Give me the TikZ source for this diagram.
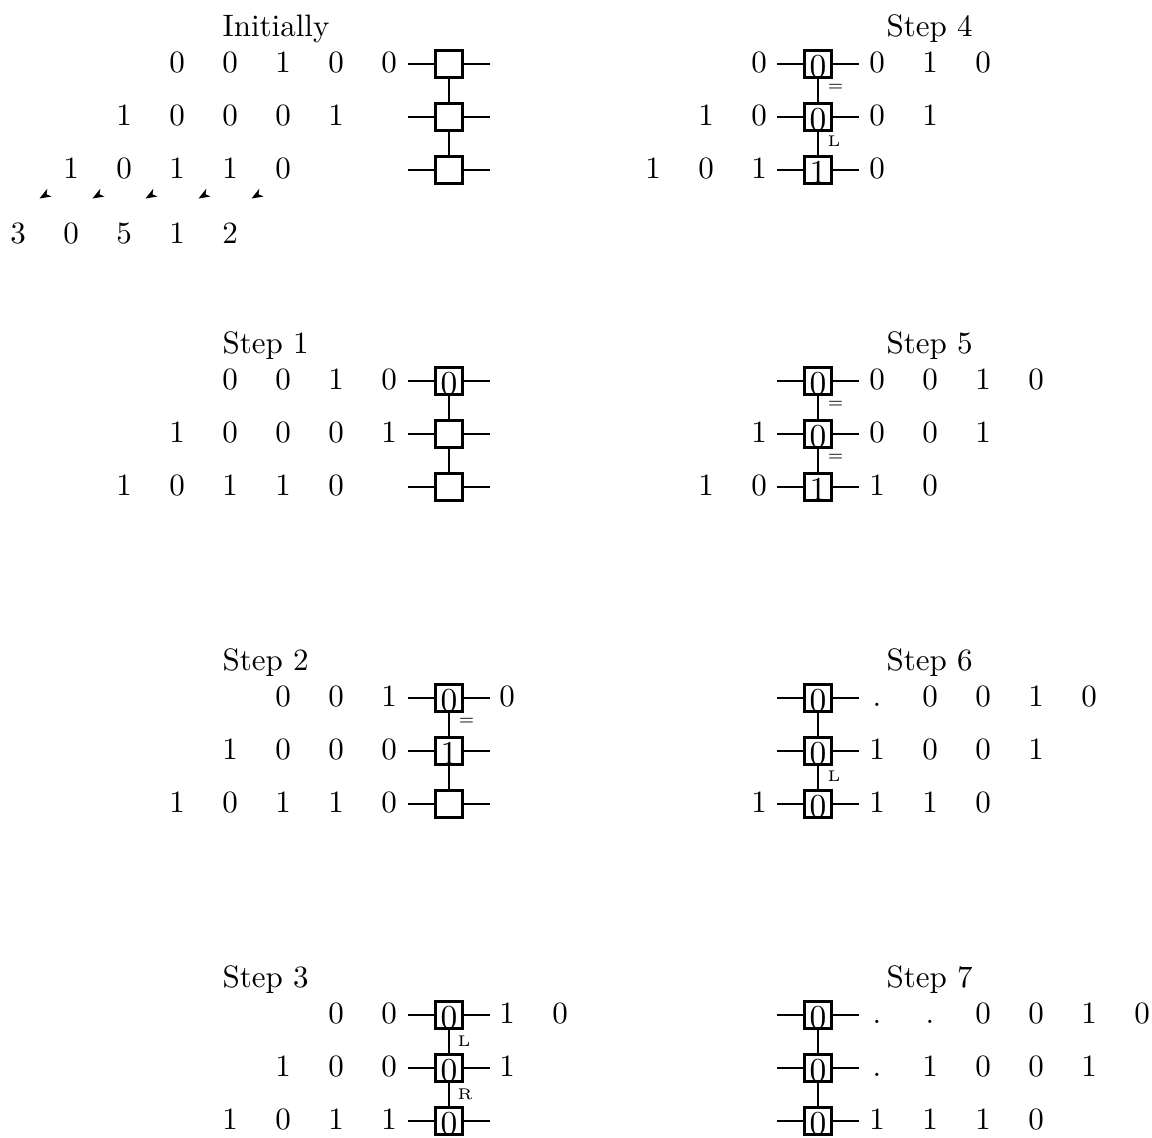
\documentclass[tikz,border=0pt]{standalone}
\usetikzlibrary{arrows.meta}
\tikzset{
  dig/.style={inner sep=0pt, text height=6.5pt, text depth=0.2pt, anchor=center},
  cell/.style={draw, line width=0.75pt, minimum width=8.8pt, minimum height=8.8pt, inner sep=0pt, text height=8.8pt, text depth=0pt, font=\fontsize{10.8}{13}\selectfont},
  wire/.style={line width=0.75pt},
  lbl/.style={font=\tiny, inner sep=0pt, anchor=west},
  ttl/.style={anchor=base west, inner sep=0pt},
}
% name, start x, y, list
\newcommand\drow[4]{\foreach \dg [count=\i from 0] in {#4} {\node[dig] (#1-\i) at ({#2+53*\i},#3) {\dg};}}
% name, box x, row y, digit
\newcommand\cel[4]{%
  \node[cell] (#1) at (#2,#3+1) {#4};
  \coordinate (#1-l) at (#2-41,#3+1);
  \coordinate (#1-r) at (#2+41,#3+1);
  \draw[wire] (#1-l) -- (#1.west);
  \draw[wire] (#1.east) -- (#1-r);}
\begin{document}
\begin{tikzpicture}[x=0.3226pt,y=-0.3226pt]
\useasboundingbox (0,0) rectangle (1152,1138);

% ---------- Initially ----------
\node[ttl] (t0) at (222,36) {Initially};
\drow{a1}{177}{63}{0,0,1,0,0}
\drow{a2}{124}{116}{1,0,0,0,1}
\drow{a3}{71}{169}{1,0,1,1,0}
\drow{a4}{18}{234}{3,0,5,1,2}
\cel{ab1}{449}{63}{}
\cel{ab2}{449}{116}{}
\cel{ab3}{449}{169}{}
\draw[wire] (ab1.south) -- (ab2.north);
\draw[wire] (ab2.south) -- (ab3.north);
\foreach \k in {0,...,4}{
  \coordinate (ar\k) at ({45+53*\k},195);
  \fill (ar\k) ++(-5.5,3.5) -- ++(12,-2) -- ++(-5,-2.2) -- ++(0.8,-5.6) -- cycle;
}

% ---------- Step 1 ----------
\node[ttl] (t1) at (222,353) {Step 1};
\drow{b1}{230}{380}{0,0,1,0}
\drow{b2}{177}{433}{1,0,0,0,1}
\drow{b3}{124}{486}{1,0,1,1,0}
\cel{bb1}{449}{380}{0}
\cel{bb2}{449}{433}{}
\cel{bb3}{449}{486}{}
\draw[wire] (bb1.south) -- (bb2.north);
\draw[wire] (bb2.south) -- (bb3.north);

% ---------- Step 2 ----------
\node[ttl] (t2) at (222,670) {Step 2};
\drow{c1}{283}{697}{0,0,1}
\drow{c1r}{507}{697}{0}
\drow{c2}{230}{750}{1,0,0,0}
\drow{c3}{177}{803}{1,0,1,1,0}
\cel{cb1}{449}{697}{0}
\cel{cb2}{449}{750}{1}
\cel{cb3}{449}{803}{}
\draw[wire] (cb1.south) -- (cb2.north);
\draw[wire] (cb2.south) -- (cb3.north);
\node[lbl] (cl1) at (458,721) {=};

% ---------- Step 3 ----------
\node[ttl] (t3) at (222,987) {Step 3};
\drow{d1}{336}{1014}{0,0}
\drow{d1r}{507}{1014}{1,0}
\drow{d2}{283}{1067}{1,0,0}
\drow{d2r}{507}{1067}{1}
\drow{d3}{230}{1120}{1,0,1,1}
\cel{db1}{449}{1014}{0}
\cel{db2}{449}{1067}{0}
\cel{db3}{449}{1120}{0}
\draw[wire] (db1.south) -- (db2.north);
\draw[wire] (db2.south) -- (db3.north);
\node[lbl] (dl1) at (457,1041) {L};
\node[lbl] (dl2) at (457,1094) {R};

% ---------- Step 4 ----------
\node[ttl] (t4) at (886,36) {Step 4};
\drow{e1}{759}{63}{0}
\drow{e1r}{877}{63}{0,1,0}
\drow{e2}{706}{116}{1,0}
\drow{e2r}{877}{116}{0,1}
\drow{e3}{653}{169}{1,0,1}
\drow{e3r}{877}{169}{0}
\cel{eb1}{818}{63}{0}
\cel{eb2}{818}{116}{0}
\cel{eb3}{818}{169}{1}
\draw[wire] (eb1.south) -- (eb2.north);
\draw[wire] (eb2.south) -- (eb3.north);
\node[lbl] (el1) at (827,87) {=};
\node[lbl] (el2) at (827,141) {L};

% ---------- Step 5 ----------
\node[ttl] (t5) at (886,353) {Step 5};
\drow{f1r}{877}{380}{0,0,1,0}
\drow{f2}{759}{433}{1}
\drow{f2r}{877}{433}{0,0,1}
\drow{f3}{706}{486}{1,0}
\drow{f3r}{877}{486}{1,0}
\cel{fb1}{818}{380}{0}
\cel{fb2}{818}{433}{0}
\cel{fb3}{818}{486}{1}
\draw[wire] (fb1.south) -- (fb2.north);
\draw[wire] (fb2.south) -- (fb3.north);
\node[lbl] (fl1) at (827,404) {=};
\node[lbl] (fl2) at (827,457) {=};

% ---------- Step 6 ----------
\node[ttl] (t6) at (886,670) {Step 6};
\drow{g1r}{877}{697}{.,0,0,1,0}
\drow{g2r}{877}{750}{1,0,0,1}
\drow{g3}{759}{803}{1}
\drow{g3r}{877}{803}{1,1,0}
\cel{gb1}{818}{697}{0}
\cel{gb2}{818}{750}{0}
\cel{gb3}{818}{803}{0}
\draw[wire] (gb1.south) -- (gb2.north);
\draw[wire] (gb2.south) -- (gb3.north);
\node[lbl] (gl1) at (827,776) {L};

% ---------- Step 7 ----------
\node[ttl] (t7) at (886,987) {Step 7};
\drow{h1r}{877}{1014}{.,.,0,0,1,0}
\drow{h2r}{877}{1067}{.,1,0,0,1}
\drow{h3r}{877}{1120}{1,1,1,0}
\cel{hb1}{818}{1014}{0}
\cel{hb2}{818}{1067}{0}
\cel{hb3}{818}{1120}{0}
\draw[wire] (hb1.south) -- (hb2.north);
\draw[wire] (hb2.south) -- (hb3.north);
\end{tikzpicture}
\end{document}
